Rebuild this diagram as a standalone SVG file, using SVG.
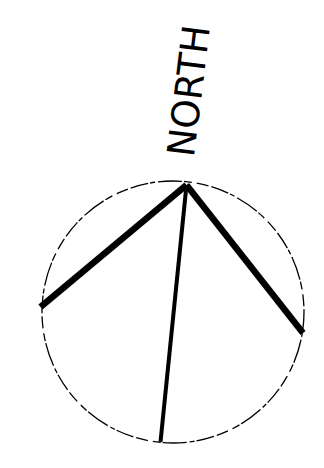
<svg xmlns="http://www.w3.org/2000/svg" width="324" height="468" viewBox="0 0 324 468">
  <style>
    .circ { fill: none; stroke: #000; stroke-width: 1.3; stroke-dasharray: 18 2 5 3 24 2 8 5 12 3; }
    .thick { stroke: #000; stroke-width: 6.5; stroke-linecap: butt; fill: none; }
    .mid { stroke: #000; stroke-width: 4; stroke-linecap: butt; fill: none; }
    .lbl { font-family: "DejaVu Sans", "Liberation Sans", sans-serif; font-size: 38px; fill: #000; }
  </style>
  <rect width="324" height="468" fill="#fff"/>
  <g id="compass-circle">
    <circle class="circ" cx="173" cy="312" r="131"/>
  </g>
  <g id="north-label">
    <text class="lbl" transform="translate(189,91) rotate(-83)" text-anchor="middle" dominant-baseline="central" textLength="132" lengthAdjust="spacingAndGlyphs">NORTH</text>
  </g>
  <g id="connectors">
    <line class="thick" x1="186.5" y1="185" x2="40.5" y2="307"/>
    <line class="thick" x1="186.5" y1="185" x2="303" y2="333"/>
    <line class="mid" x1="186.5" y1="185" x2="160.5" y2="442"/>
  </g>
</svg>
